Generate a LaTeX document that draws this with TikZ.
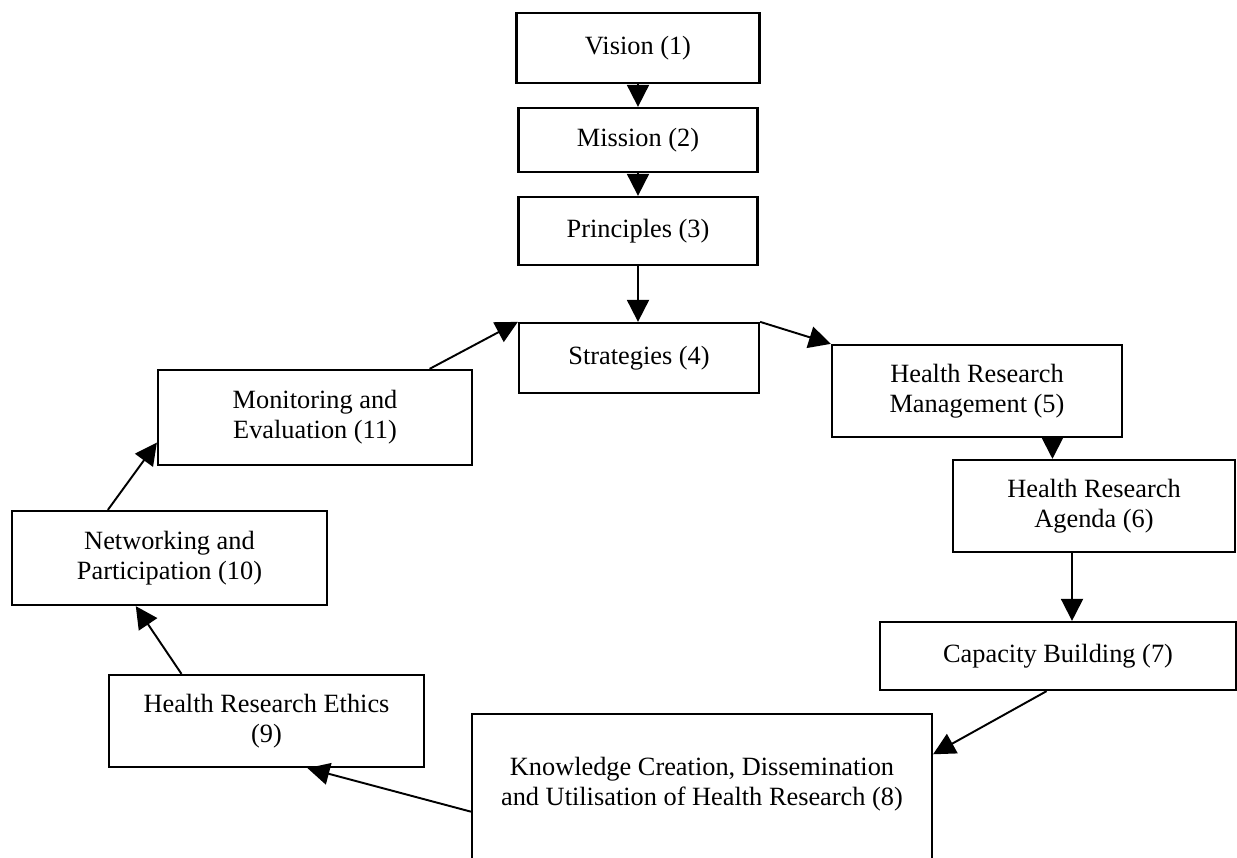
\documentclass[tikz,border=0pt]{standalone}
\usepackage{fontspec}
\setmainfont{Liberation Serif}
\usepackage{tikz}
\usetikzlibrary{
  arrows.meta,
  positioning
}
\tikzset{
  % Plain step box
  proc/.style={
    rectangle, draw=black, line width=1.3pt, fill=white,
    align=center, inner sep=2pt,
    font=\fontsize{15}{17}\selectfont
  },
  % Arrow
  arr/.style={
    -{Triangle[length=0.44cm,width=0.44cm]},
    line width=1.1pt, color=black
  }
}

\begin{document}
\begin{tikzpicture}[x=0.02cm, y=-0.02cm]
  \useasboundingbox (0,0) rectangle (1237,858);

  \node[proc, line width=1.6pt, minimum width=4.86cm, minimum height=1.40cm] (vis) at (638,48)  {Vision (1)};
  \node[proc, minimum width=4.78cm, minimum height=1.28cm] (mis) at (638,140) {Mission (2)};
  \node[proc, minimum width=4.78cm, minimum height=1.36cm] (pri) at (638,231) {Principles (3)};
  \node[proc, minimum width=4.80cm, minimum height=1.40cm] (str) at (639,358) {Strategies (4)};
  \node[proc, minimum width=5.80cm, minimum height=1.84cm] (hrm) at (977,391)   {Health Research\\Management (5)};
  \node[proc, minimum width=5.64cm, minimum height=1.84cm] (hra) at (1094,506)  {Health Research\\Agenda (6)};
  \node[proc, minimum width=7.12cm, minimum height=1.36cm] (cb)  at (1058,656)  {Capacity Building (7)};
  \node[proc, minimum width=9.20cm, minimum height=3.74cm, anchor=north] (kc) at (702,713)
    {Knowledge Creation, Dissemination\\and Utilisation of Health Research (8)\\[13pt]~};
  \node[proc, minimum width=6.30cm, minimum height=1.84cm] (eth) at (266.5,721) {Health Research Ethics\\(9)};
  \node[proc, minimum width=6.30cm, minimum height=1.88cm] (net) at (169.5,558) {Networking and\\Participation (10)};
  \node[proc, minimum width=6.28cm, minimum height=1.90cm] (mon) at (315,417.5) {Monitoring and\\Evaluation (11)};

  \draw[arr] (vis) -- (mis);
  \draw[arr] (mis) -- (pri);
  \draw[arr] (pri.south) -- (pri.south |- str.north);
  \draw[arr] (str.north east) -- (hrm.north west);
  \draw[arr] (hrm.-32) -- (hrm.-32 |- hra.north);
  \draw[arr] (hra.-115) -- (hra.-115 |- cb.north);
  \draw[arr] (cb.-108) -- (kc.13);
  \draw[arr] (kc.181) -- (eth.-49);
  \draw[arr] (eth.151) -- (net.-125);
  \draw[arr] (net.142) -- (mon.189);
  \draw[arr] (mon.23) -- (str.north west);
\end{tikzpicture}
\end{document}
